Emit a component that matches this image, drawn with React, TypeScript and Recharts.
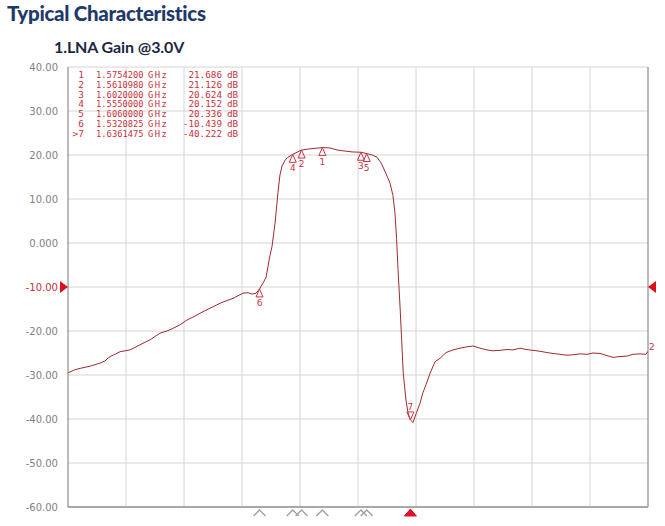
import React from "react";
import { ComposedChart, Line, XAxis, YAxis, ReferenceLine, ReferenceDot } from "recharts";

const freqs = [
  1.4, 1.4048, 1.4083, 1.4152, 1.4221, 1.4255, 1.429, 1.4324, 1.4359, 1.4428, 1.4476, 1.4517,
  1.4566, 1.4634, 1.4683, 1.4724, 1.4772, 1.4821, 1.4876, 1.4931, 1.4993, 1.5048, 1.5103, 1.5138,
  1.5172, 1.5207, 1.5241, 1.5269, 1.5297, 1.5321, 1.5345, 1.5366, 1.5379, 1.5393, 1.5407, 1.5428,
  1.5448, 1.5462, 1.5476, 1.5497, 1.5517, 1.555, 1.5611, 1.5669, 1.5754, 1.5807, 1.5862, 1.591,
  1.5959, 1.602, 1.606, 1.6097, 1.6131, 1.6159, 1.6179, 1.62, 1.6221, 1.6241, 1.6255, 1.6266,
  1.6276, 1.629, 1.6301, 1.6312, 1.6331, 1.6345, 1.6361, 1.6379, 1.6403, 1.6428, 1.6448, 1.6469,
  1.6497, 1.6531, 1.6566, 1.6607, 1.6655, 1.6703, 1.6752, 1.6793, 1.6841, 1.689, 1.6931, 1.6979,
  1.7028, 1.7069, 1.7117, 1.7159, 1.7207, 1.7255, 1.7303, 1.7345, 1.7393, 1.7441, 1.7483, 1.7531,
  1.7579, 1.7621, 1.7669, 1.7717, 1.7759, 1.7807, 1.7855, 1.7897, 1.7945, 1.7986, 1.8,
];

const gains = [
  -29.5, -28.8, -28.5, -28.0, -27.3, -26.8, -25.8, -25.3, -24.7, -24.3, -23.5, -22.8,
  -22.0, -20.5, -20.0, -19.4, -18.6, -17.5, -16.6, -15.6, -14.6, -13.7, -13.0, -12.6,
  -12.0, -11.4, -11.3, -11.6, -11.4, -10.439, -9.1, -7.8, -5.4, -2.8, -0.8, 4.5,
  11.5, 15.5, 17.5, 18.8, 19.5, 20.152, 21.126, 21.4, 21.686, 21.6, 21.1, 20.9,
  20.7, 20.624, 20.336, 20.0, 19.5, 18.2, 16.8, 15.2, 13.6, 10.8, 6.8, 1.0,
  -6.0, -14.5, -22.0, -29.6, -35.7, -38.6, -40.222, -40.8, -38.6, -36.4, -34.0, -32.2,
  -29.6, -27.0, -26.2, -24.9, -24.3, -23.9, -23.6, -23.4, -23.9, -24.3, -24.5, -24.4,
  -24.2, -24.3, -23.9, -24.2, -24.4, -24.6, -24.9, -25.1, -25.3, -25.5, -25.4, -25.2,
  -25.3, -25.0, -25.1, -25.6, -26.0, -25.8, -25.7, -25.3, -25.2, -25.3, -24.6,
];

const markerIds = ["1", "2", "3", "4", "5", "6", ">7"];
const markerFreqs = [1.57542, 1.561098, 1.602, 1.555, 1.606, 1.5320825, 1.6361475];
const markerGains = [21.686, 21.126, 20.624, 20.152, 20.336, -10.439, -40.222];
const markerFreqText = ["1.5754200", "1.5610980", "1.6020000", "1.5550000", "1.6060000", "1.5320825", "1.6361475"];
const markerGainText = ["21.686", "21.126", "20.624", "20.152", "20.336", "-10.439", "-40.222"];

const xTicks = [1.4, 1.44, 1.48, 1.52, 1.56, 1.6, 1.64, 1.68, 1.72, 1.76, 1.8];
const yTicks = [40, 30, 20, 10, 0, -10, -20, -30, -40, -50, -60];
const refLevel = -10;

const data = freqs.map((f, i) => ({ f, db: gains[i] }));

const TRACE = "#9e2a30";
const MRED = "#cc3344";

const YTick = (props: any) => {
  const { y, payload } = props;
  const v = payload.value;
  const label = v === 0 ? "0.000" : v.toFixed(2);
  return (
    <text x={58} y={y} dy={3.6} textAnchor="end" fontFamily="DejaVu Sans" fontSize={10}
      fill={v === refLevel ? "#c8303c" : "#808080"}>{label}</text>
  );
};

const markerShape = (label: string, down: boolean) => (p: any) => {
  const { cx, cy } = p;
  if (down) {
    return (
      <g>
        <polygon points={`${cx},${cy} ${cx - 3.5},${cy - 8} ${cx + 3.5},${cy - 8}`} fill="none" stroke={MRED} strokeWidth={1} />
        <text x={cx} y={cy - 10} textAnchor="middle" fontFamily="DejaVu Sans" fontSize={9} fill={MRED}>{label}</text>
      </g>
    );
  }
  return (
    <g>
      <polygon points={`${cx},${cy} ${cx - 3.5},${cy + 8} ${cx + 3.5},${cy + 8}`} fill="none" stroke={MRED} strokeWidth={1} />
      <text x={cx} y={cy + 17} textAnchor="middle" fontFamily="DejaVu Sans" fontSize={9} fill={MRED}>{label}</text>
    </g>
  );
};

const chevron = (active: boolean) => (p: any) => {
  const { cx, cy } = p;
  if (active) {
    return <polygon points={`${cx - 6},${cy + 9} ${cx},${cy + 2} ${cx + 6},${cy + 9}`} fill="#e01028" stroke="#e01028" />;
  }
  return <polyline points={`${cx - 6},${cy + 9} ${cx},${cy + 3} ${cx + 6},${cy + 9}`} fill="none" stroke="#a0a0a0" strokeWidth={1.4} />;
};

const leftRef = (p: any) => {
  const { cx, cy } = p;
  return <polygon points={`${cx - 8},${cy - 6} ${cx},${cy} ${cx - 8},${cy + 6}`} fill="#d81020" />;
};
const rightRef = (p: any) => {
  const { cx, cy } = p;
  return <polygon points={`${cx + 8},${cy - 6} ${cx},${cy} ${cx + 8},${cy + 6}`} fill="#d81020" />;
};
const traceLabel = (p: any) => {
  const { cx, cy } = p;
  return <text x={cx + 1} y={cy - 1} fontFamily="DejaVu Sans" fontSize={9} fill={MRED}>2</text>;
};

export default function App() {
  return (
    <div style={{ position: "absolute", left: 0, top: 0, width: 665, height: 526, background: "#fff", overflow: "hidden" }}>
      <div style={{ position: "absolute", left: 7, top: 1, fontFamily: "Lato", fontWeight: 900, fontSize: 20.5, color: "#1f3a68", letterSpacing: -0.3, whiteSpace: "nowrap" }}>
        Typical Characteristics
      </div>
      <div style={{ position: "absolute", left: 54, top: 37, fontFamily: "Lato", fontWeight: 700, fontSize: 16, color: "#1c2840", letterSpacing: -0.1, whiteSpace: "nowrap" }}>
        1.LNA Gain @3.0V
      </div>
      <ComposedChart width={665} height={526} data={data} margin={{ top: 67, right: 17, bottom: 19, left: 8 }}>
        <XAxis dataKey="f" type="number" domain={[1.4, 1.8]} ticks={xTicks} hide allowDataOverflow />
        <YAxis type="number" domain={[-60, 40]} ticks={yTicks} width={60} tick={<YTick />} tickLine={false}
          axisLine={{ stroke: "#777", strokeWidth: 1 }} interval={0} />
        {yTicks.map((t) => (
          <ReferenceLine key={"h" + t} y={t} stroke="#d4d4d4" strokeWidth={1} />
        ))}
        {xTicks.slice(1, -1).map((t) => (
          <ReferenceLine key={"v" + t} x={t} stroke="#d4d4d4" strokeWidth={1} />
        ))}
        <ReferenceLine x={1.8} stroke="#777" strokeWidth={1} />
        <ReferenceLine y={-60} stroke="#a8a8a8" strokeWidth={2} />
        <Line dataKey="db" type="linear" stroke={TRACE} strokeWidth={1} dot={false} isAnimationActive={false} />
        {markerIds.map((id, i) => (
          <ReferenceDot key={"m" + id} x={markerFreqs[i]} y={markerGains[i]} ifOverflow="visible"
            shape={markerShape(id.replace(">", ""), id.startsWith(">"))} />
        ))}
        {markerIds.map((id, i) => (
          <ReferenceDot key={"c" + id} x={markerFreqs[i]} y={-60} ifOverflow="visible"
            shape={chevron(id.startsWith(">"))} />
        ))}
        <ReferenceDot x={1.4} y={refLevel} ifOverflow="visible" shape={leftRef} />
        <ReferenceDot x={1.8} y={refLevel} ifOverflow="visible" shape={rightRef} />
        <ReferenceDot x={1.8} y={gains[gains.length - 1]} ifOverflow="visible" shape={traceLabel} />
      </ComposedChart>
      <svg width={200} height={80} style={{ position: "absolute", left: 60, top: 66 }}>
        {markerIds.map((id, i) => {
          const y = 12 + i * 9.8;
          return (
            <g key={"t" + id} fontFamily="DejaVu Sans Mono" fill="#c8323c">
              <text x={24} y={y} textAnchor="end" fontSize={9.5}>{id}</text>
              <text x={36} y={y} fontSize={8.8}>{markerFreqText[i]}</text>
              <text x={88} y={y} fontSize={8.8} letterSpacing={1.5}>GHz</text>
              <text x={162} y={y} textAnchor="end" fontSize={9.3}>{markerGainText[i]}</text>
              <text x={167} y={y} fontSize={9.3}>dB</text>
            </g>
          );
        })}
      </svg>
    </div>
  );
}
